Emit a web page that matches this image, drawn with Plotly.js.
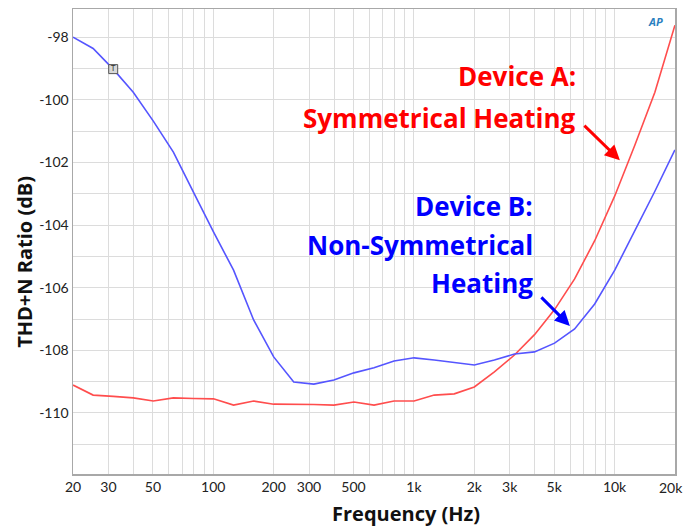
<!DOCTYPE html>
<html>
<head>
<meta charset="utf-8">
<script src="https://cdn.plot.ly/plotly-3.0.1.min.js"></script>
<style>html,body{margin:0;padding:0;background:#fff;}#chart{width:685px;height:529px;}</style>
</head>
<body>
<div id="chart"></div>
<script>
// Frequencies (Hz), 1/10-decade steps
var freqHz = [20, 25.18, 31.70, 39.91, 50.24, 63.25, 79.62, 100.2, 126.2, 158.9, 200, 251.8, 317.0, 399.1, 502.4, 632.5, 796.2, 1002, 1262, 1589, 2000, 2518, 3170, 3991, 5024, 6325, 7962, 10024, 12619, 15887, 20000];
// Device A: Symmetrical Heating (red)
var deviceA = [-109.11, -109.43, -109.47, -109.52, -109.62, -109.52, -109.54, -109.55, -109.75, -109.62, -109.72, -109.72, -109.73, -109.75, -109.65, -109.75, -109.62, -109.62, -109.43, -109.39, -109.17, -108.69, -108.15, -107.5, -106.7, -105.72, -104.5, -103.07, -101.45, -99.76, -97.62];
// Device B: Non-Symmetrical Heating (blue)
var deviceB = [-98.0, -98.36, -99.02, -99.76, -100.68, -101.67, -102.95, -104.22, -105.44, -107.03, -108.21, -109.01, -109.08, -108.95, -108.72, -108.56, -108.34, -108.24, -108.31, -108.39, -108.47, -108.31, -108.12, -108.05, -107.77, -107.32, -106.52, -105.44, -104.2, -102.92, -101.6];
// Cursor marker
var markerX = [31.70];
var markerY = [-99.02];
var markerText = ['T'];

var xTickVals = [20,30,40,50,60,70,80,90,100,200,300,400,500,600,700,800,900,1000,2000,3000,4000,5000,6000,7000,8000,9000,10000,20000];
var xTickLabelMap = {20:'20',30:'30',50:'50',100:'100',200:'200',300:'300',500:'500',1000:'1k',2000:'2k',3000:'3k',5000:'5k',10000:'10k',20000:'20k'};
var xEdgeTick = 20000; // drawn as an annotation so it is not clipped at the page edge
var xTickText = xTickVals.map(function(v){return (v === xEdgeTick) ? '' : (xTickLabelMap[v] || '');});
var yTickVals = [-112,-111,-110,-109,-108,-107,-106,-105,-104,-103,-102,-101,-100,-99,-98];
var yTickText = yTickVals.map(function(v){return (v % 2 === 0 && v >= -110) ? String(v) : '';});

var TICKFONT = 'Lato, "Open Sans", sans-serif';
var BOLDFONT = '"Open Sans", Lato, sans-serif';

var traces = [
  {x: freqHz, y: deviceA, type: 'scatter', mode: 'lines', name: 'Device A',
   line: {color: '#ff4d4d', width: 1.6}, hoverinfo: 'skip'},
  {x: freqHz, y: deviceB, type: 'scatter', mode: 'lines', name: 'Device B',
   line: {color: '#5555ff', width: 1.6}, hoverinfo: 'skip'},
  {x: markerX, y: markerY, type: 'scatter', mode: 'markers+text', text: markerText,
   textposition: 'middle center', textfont: {size: 8, color: '#333', family: TICKFONT},
   marker: {symbol: 'square', size: 9, color: '#d8d8d8', line: {color: '#555', width: 1}},
   hoverinfo: 'skip'}
];

var layout = {
  width: 685, height: 529,
  margin: {l: 73, r: 10, t: 9, b: 55},
  paper_bgcolor: '#fff', plot_bgcolor: '#fff',
  showlegend: false,
  font: {family: TICKFONT, color: '#222'},
  xaxis: {
    type: 'log', range: [Math.log10(20) - 0.0003, Math.log10(20000) + 0.0003],
    tickvals: xTickVals, ticktext: xTickText, ticks: '',
    tickfont: {size: 14, color: '#222'},
    showgrid: true, gridcolor: '#dcdcdc', gridwidth: 1,
    showline: true, linecolor: '#a8a8a8', linewidth: 1.5, mirror: true,
    zeroline: false
  },
  yaxis: {
    range: [-111.95, -97.1],
    tickvals: yTickVals, ticktext: yTickText, ticks: '',
    tickfont: {size: 14, color: '#222'},
    showgrid: true, gridcolor: '#dcdcdc', gridwidth: 1,
    showline: true, linecolor: '#a8a8a8', linewidth: 1.5, mirror: true,
    zeroline: false
  },
  annotations: [
    {xref: 'x', yref: 'paper', x: Math.log10(xEdgeTick), y: 0, xanchor: 'center', yanchor: 'top',
     xshift: -4, yshift: -3, text: xTickLabelMap[xEdgeTick], showarrow: false,
     font: {size: 14, color: '#222', family: TICKFONT}},
    {xref: 'paper', yref: 'paper', x: 0.553, y: -0.086, xanchor: 'center', yanchor: 'middle',
     text: '<b>Frequency (Hz)</b>', showarrow: false, font: {size: 20, color: '#111', family: BOLDFONT}},
    {xref: 'paper', yref: 'paper', x: -0.08, y: 0.456, xanchor: 'center', yanchor: 'middle', textangle: -90,
     text: '<b>THD+N Ratio (dB)</b>', showarrow: false, font: {size: 20, color: '#111', family: BOLDFONT}},
    {xref: 'paper', yref: 'paper', x: 0.839, y: 0.856, xanchor: 'right', yanchor: 'middle',
     text: '<b>Device A:</b>', showarrow: false, font: {size: 26, color: '#ff0000', family: BOLDFONT}},
    {xref: 'paper', yref: 'paper', x: 0.839, y: 0.765, xanchor: 'right', yanchor: 'middle',
     text: '<b>Symmetrical Heating</b>', showarrow: false, font: {size: 26, color: '#ff0000', family: BOLDFONT}},
    {xref: 'paper', yref: 'paper', x: 0.7674, y: 0.576, xanchor: 'right', yanchor: 'middle',
     text: '<b>Device B:</b>', showarrow: false, font: {size: 26, color: '#0000ff', family: BOLDFONT}},
    {xref: 'paper', yref: 'paper', x: 0.7674, y: 0.492, xanchor: 'right', yanchor: 'middle',
     text: '<b>Non-Symmetrical</b>', showarrow: false, font: {size: 26, color: '#0000ff', family: BOLDFONT}},
    {xref: 'paper', yref: 'paper', x: 0.7674, y: 0.411, xanchor: 'right', yanchor: 'middle',
     text: '<b>Heating</b>', showarrow: false, font: {size: 26, color: '#0000ff', family: BOLDFONT}},
    {xref: 'x', yref: 'y', x: Math.log10(10630), y: -101.93, ax: -37, ay: -36,
     text: '', showarrow: true, arrowhead: 2, arrowsize: 1, arrowwidth: 3, arrowcolor: '#ff0000'},
    {xref: 'x', yref: 'y', x: Math.log10(5990), y: -107.22, ax: -30, ay: -30,
     text: '', showarrow: true, arrowhead: 2, arrowsize: 1, arrowwidth: 3, arrowcolor: '#0000ff'},
    {xref: 'paper', yref: 'paper', x: 0.968, y: 0.974, xanchor: 'center', yanchor: 'middle',
     text: '<i><b>AP</b></i>', showarrow: false, font: {size: 11, color: '#2a7fc0', family: BOLDFONT}}
  ]
};

Plotly.newPlot('chart', traces, layout, {displayModeBar: false, staticPlot: true});
</script>
</body>
</html>
